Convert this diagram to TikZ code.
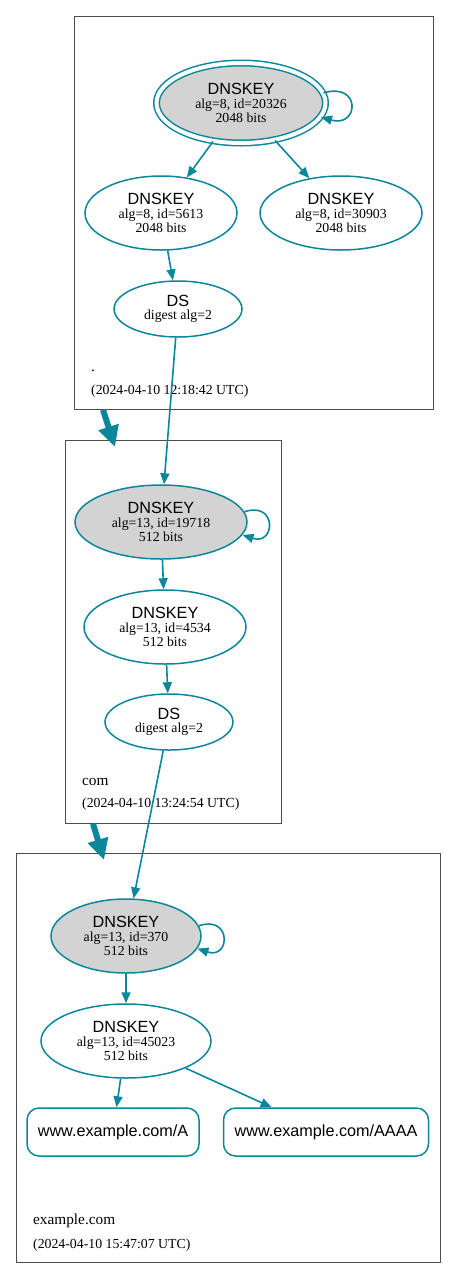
\documentclass[tikz,border=0pt]{standalone}
\usepackage{fontspec}
\setmainfont{Liberation Serif}
\newfontfamily\keyfont{Liberation Sans}
\usetikzlibrary{arrows.meta}
\usetikzlibrary{calc}
\usetikzlibrary{shapes.geometric}

\definecolor{dnsteal}{HTML}{0A879A}
\definecolor{zonegray}{HTML}{4D4D4D}
\definecolor{kskfill}{HTML}{D3D3D3}

\newcommand{\bigtext}[1]{{\keyfont\fontsize{16.2}{16}\selectfont #1}}
\newcommand{\dnskey}[3]{\bigtext{DNSKEY}\\[0pt]alg=#1, id=#2\\[0.5pt]#3 bits}
\newcommand{\dsrec}[1]{\bigtext{DS}\\[0pt]digest alg=#1}

\begin{document}
\begin{tikzpicture}[x=1pt,y=-1pt]
    \useasboundingbox (0,0) rectangle (456,1278);

    % zones
    \begin{scope}[every node/.style={rectangle,draw=zonegray,line width=0.8pt,inner sep=0pt,anchor=north west}]
        \node[minimum width=359pt,minimum height=393pt] (zroot) at (74,16) {};
        \node[minimum width=216pt,minimum height=383pt] (zcom) at (65,440) {};
        \node[minimum width=424pt,minimum height=409pt] (zex) at (16,853) {};
    \end{scope}

    \begin{scope}[every node/.style={anchor=base west,inner sep=0pt}]
        \node[font=\fontsize{15.3}{16}\selectfont] (lroot) at (91,371) {.};
        \node[font=\fontsize{13.8}{14}\selectfont] (troot) at (91,394) {(2024-04-10 12:18:42 UTC)};
        \node[font=\fontsize{15.3}{16}\selectfont] (lcom) at (82,785) {com};
        \node[font=\fontsize{13.8}{14}\selectfont] (tcom) at (82,807) {(2024-04-10 13:24:54 UTC)};
        \node[font=\fontsize{15.3}{16}\selectfont] (lex) at (33,1224) {example.com};
        \node[font=\fontsize{13.8}{14}\selectfont] (tex) at (33,1248) {(2024-04-10 15:47:07 UTC)};
    \end{scope}

    % keys and DS
    \begin{scope}[every node/.style={ellipse,draw=dnsteal,line width=1.5pt,inner sep=0pt,align=center,
            font=\fontsize{13.8}{13.5}\selectfont}]
        \node[fill=kskfill,double=white,double distance=4pt,minimum width=169pt,minimum height=80pt] (rksk) at (241,103) {\dnskey{8}{20326}{2048}};
        \node[minimum width=152pt,minimum height=74pt] (rzsk) at (161,213) {\dnskey{8}{5613}{2048}};
        \node[minimum width=162pt,minimum height=74pt] (rzsk2) at (341,213) {\dnskey{8}{30903}{2048}};
        \node[minimum width=128pt,minimum height=56pt] (rds) at (178,309) {\dsrec{2}};

        \node[fill=kskfill,minimum width=172pt,minimum height=74pt] (cksk) at (161,522) {\dnskey{13}{19718}{512}};
        \node[minimum width=162pt,minimum height=74pt] (czsk) at (165,627) {\dnskey{13}{4534}{512}};
        \node[minimum width=128pt,minimum height=56pt] (cds) at (169,722) {\dsrec{2}};

        \node[fill=kskfill,minimum width=150pt,minimum height=74pt] (eksk) at (126,936) {\dnskey{13}{370}{512}};
        \node[minimum width=170pt,minimum height=74pt] (ezsk) at (126,1041) {\dnskey{13}{45023}{512}};
    \end{scope}

    \begin{scope}[every node/.style={rectangle,rounded corners=12pt,draw=dnsteal,line width=1.5pt,
            minimum height=48pt,font=\keyfont\fontsize{16.2}{16}\selectfont}]
        \node[minimum width=172pt] (ea) at (113,1132) {www.example.com/A};
        \node[minimum width=205pt] (eaaaa) at (326,1132) {www.example.com/AAAA};
    \end{scope}

    \coordinate (rootout) at ($(zroot.south west)+(29,0)$);
    \coordinate (comin) at ($(zcom.north west)+(50,7)$);
    \coordinate (comout) at ($(zcom.south west)+(28,0)$);
    \coordinate (exin) at ($(zex.north west)+(88,7)$);

    \begin{scope}[>={Triangle[length=11pt,width=9pt]},
            every edge/.style={draw=dnsteal,line width=1.6pt}]
        \draw [->,draw=dnsteal,line width=1.6pt] (rksk.7) .. controls +(38,-11) and +(38,11) .. (rksk.-10);
        \path [->] (rksk) edge (rzsk);
        \path [->] (rksk) edge (rzsk2);
        \path [->] (rzsk) edge (rds);
        \path [->] (rds) edge (cksk);
        \draw [->,draw=dnsteal,line width=1.6pt] (cksk.7) .. controls +(33,-11) and +(33,11) .. (cksk.-9);
        \path [->] (cksk) edge (czsk);
        \path [->] (czsk) edge (cds);
        \path [->] (cds) edge (eksk);
        \draw [->,draw=dnsteal,line width=1.6pt] (eksk.8) .. controls +(33,-11) and +(33,11) .. (eksk.-10);
        \path [->] (eksk) edge (ezsk);
        \path [->] (ezsk) edge (ea);
        \path [->] (ezsk) edge (eaaaa);
    \end{scope}

    \begin{scope}[>={Triangle[length=21pt,width=20pt]}]
        \draw [->,draw=dnsteal,line width=6pt] (rootout) -- (comin);
        \draw [->,draw=dnsteal,line width=6pt] (comout) -- (exin);
    \end{scope}
\end{tikzpicture}
\end{document}
